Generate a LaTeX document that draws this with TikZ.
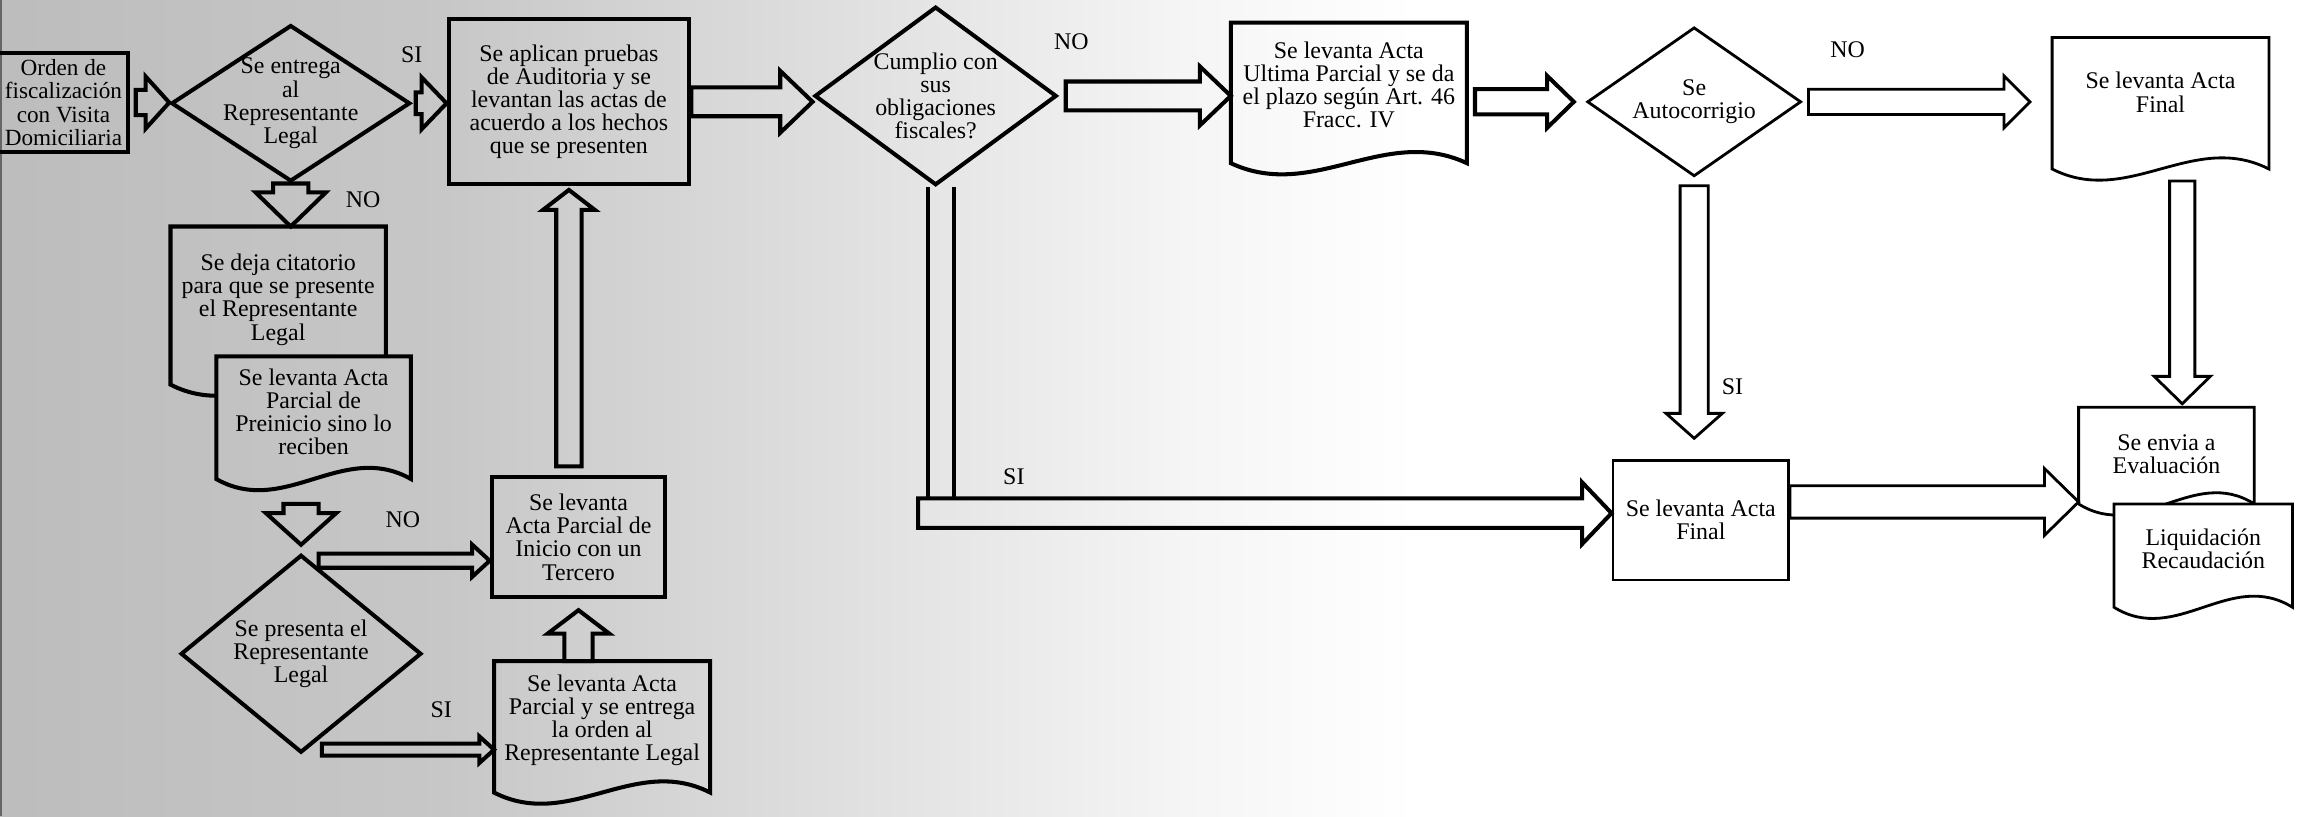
\documentclass[tikz,border=0pt]{standalone}
\usepackage{fontspec}
\setmainfont{Liberation Serif}
\usepackage{tikz}
\usetikzlibrary{calc,positioning,shapes.geometric}

% document symbol: box with a wavy lower edge
\newcommand{\docshape}[3][]{%
  \draw[#1] ($(#2.south west)+(0pt,-#3)$) -- (#2.north west) -- (#2.north east)
    -- ($(#2.south east)+(0pt,-#3)$)
    .. controls ($(#2.south west)!0.65!(#2.south east)+(0pt,11pt-#3)$)
       and ($(#2.south west)!0.35!(#2.south east)+(0pt,-11pt-#3)$)
    .. ($(#2.south west)+(0pt,-#3)$) -- cycle;}

\begin{document}
\begin{tikzpicture}[
  x=0.42pt, y=-0.42pt,
  font=\fontsize{6.8}{6.6}\selectfont,
  ink/.style={line width=1.15pt},
  faint/.style={line width=0.8pt},
  box/.style={draw, ink, align=center, inner sep=1pt},
  doc/.style={align=center, inner sep=1pt},
  dec/.style={diamond, draw, ink, inner sep=0pt},
  dtext/.style={align=center, inner sep=0pt},
  lab/.style={inner sep=0pt},
  shaftw/.store in=\shaftw, headw/.store in=\headw, headl/.store in=\headl,
  shaftw=3.6pt, headw=7.4pt, headl=7.4pt,
  blk/.style={draw, ink, to path={let \p1=(\tikztostart), \p2=(\tikztotarget),
      \p3=($(\p2)!\headl!(\p1)$) in
      ($(\p1)!\shaftw!90:(\p2)$) -- ($(\p3)!\shaftw!-90:(\p1)$)
      -- ($(\p3)!\headw!-90:(\p1)$) -- (\p2) -- ($(\p3)!\headw!90:(\p1)$)
      -- ($(\p3)!\shaftw!90:(\p1)$) -- ($(\p1)!\shaftw!-90:(\p2)$) -- cycle}}
]
\useasboundingbox (0,0) rectangle (1568,553);

% photocopy grey on the left
\shade[left color=black!26, right color=black!22] (0,0) rectangle (301,553);
\shade[left color=black!22, right color=black!12] (300,0) rectangle (581,553);
\shade[left color=black!12, right color=black!4] (580,0) rectangle (801,553);
\shade[left color=black!4, right color=white] (800,0) rectangle (960,553);
\fill[black!60] (0,0) rectangle (1.5,553);

% left column
\node[box, font=\fontsize{6.6}{6.6}\selectfont, minimum width=37pt, minimum height=28.1pt]
  (orden) at (43,69.5) {Orden de\\fiscalización\\con Visita\\Domiciliaria};
\node[dec, minimum width=68pt, minimum height=44.5pt,
  label={[dtext]center:Se entrega\\al\\Representante\\Legal}] (d1) at (197,70) {};
\node[box, minimum width=68.5pt, minimum height=47pt] (box1) at (385.5,69)
  {Se aplican pruebas\\de Auditoria y se\\levantan las actas de\\acuerdo a los hechos\\que se presenten};
\node[doc, minimum width=60.9pt, minimum height=41.2pt] (doc1) at (188.5,203)
  {Se deja citatorio\\para que se presente\\el Representante\\Legal};
\node[doc, minimum width=55pt, minimum height=31.1pt] (doc2) at (212.5,279)
  {Se levanta Acta\\Parcial de\\Preinicio sino lo\\reciben};
\node[dec, minimum width=68.5pt, minimum height=56.3pt,
  label={[dtext]center:Se presenta el\\Representante\\Legal}] (d4) at (204,443) {};
\node[box, minimum width=49.4pt, minimum height=34.2pt] (tercero) at (392,364)
  {Se levanta\\Acta Parcial de\\Inicio con un\\Tercero};
\node[doc, minimum width=61.1pt, minimum height=33.2pt] (doc3) at (408,488)
  {Se levanta Acta\\Parcial y se entrega\\la orden al\\Representante Legal};

% middle and right
\node[dec, minimum width=68.9pt, minimum height=50.8pt,
  label={[dtext]center:Cumplio con\\sus\\obligaciones\\fiscales?}] (d2) at (634,65) {};
\node[doc, minimum width=66.8pt, minimum height=35.1pt] (doc4) at (914,57.6)
  {Se levanta Acta\\Ultima Parcial y se da\\el plazo según Art. 46\\Fracc. IV};
\node[dec, faint, minimum width=60.9pt, minimum height=42.4pt,
  label={[dtext]center:Se\\Autocorrigio}] (d3) at (1148,69) {};
\node[doc, minimum width=61.3pt, minimum height=30.7pt] (doc5) at (1464,62.5)
  {Se levanta Acta\\Final};
\node[box, faint, minimum width=50pt, minimum height=34pt] (final) at (1152.5,352.5)
  {Se levanta Acta\\Final};
\node[doc, minimum width=49.6pt, minimum height=26.5pt] (eval) at (1468,308)
  {Se envia a\\Evaluación};
\node[doc, minimum width=50.4pt, minimum height=25.2pt] (liq) at (1493,372)
  {Liquidación\\Recaudación};

% document outlines
\begin{scope}[even odd rule]
  \clip (0,0) rectangle (1568,553) (doc2.north west) rectangle (doc2.south east);
  \docshape[ink]{doc1}{3.4pt}
\end{scope}
\docshape[ink]{doc2}{3.4pt}
\docshape[ink]{doc3}{3.8pt}
\docshape[ink]{doc4}{4.5pt}
\docshape[faint]{doc5}{6.3pt}
\begin{scope}[even odd rule]
  \clip (0,0) rectangle (1568,553) (liq.north west) rectangle (liq.south east);
  \docshape[faint]{eval}{0.6pt}
\end{scope}
\docshape[faint]{liq}{3.8pt}

% branch labels
\node[lab] (si1) at (279,37) {SI};
\node[lab] (no1) at (246,135) {NO};
\node[lab] (no2) at (273,352) {NO};
\node[lab] (si2) at (299,481) {SI};
\node[lab] (no3) at (726,28) {NO};
\node[lab] (si3) at (687,323) {SI};
\node[lab] (si4) at (1174,262) {SI};
\node[lab] (no4) at (1252,34) {NO};

% block arrows
\coordinate (a1s) at ($(orden.east)+(1.5pt,0pt)$);
\coordinate (a1t) at (orden.east -| d1.west);
\draw[blk, headl=6.7pt] (a1s) to (a1t);

\coordinate (a2s) at ($(d1.east)+(1pt,0pt)$);
\coordinate (a2t) at (d1.east -| box1.west);
\draw[blk, shaftw=3.1pt, headl=7.1pt] (a2s) to (a2t);

\coordinate (a3t) at (box1.east -| d2.west);
\draw[blk, shaftw=4.1pt, headw=8.8pt, headl=9.2pt] (box1.east) to (a3t);

\coordinate (a4t) at (d1.south |- doc1.north);
\draw[blk, shaftw=5pt, headw=10pt, headl=9.7pt] (d1.south) to (a4t);

\coordinate (a5s) at ($(d4.north |- doc2.south)+(0pt,-10.5pt)$);
\coordinate (a5t) at ($(d4.north)+(0pt,2.3pt)$);
\draw[blk, shaftw=5pt, headw=10pt, headl=9pt] (a5s) to (a5t);

\coordinate (a6t) at ($(tercero.west)+(0pt,-6.7pt)$);
\coordinate (a6s) at ($(d4.north |- a6t)+(5pt,0pt)$);
\draw[blk, shaftw=2pt, headw=4.6pt, headl=5pt] (a6s) to (a6t);

\coordinate (a7t) at ($(doc3.west)+(0pt,-8.4pt)$);
\coordinate (a7s) at ($(d4.south |- a7t)+(5.9pt,0pt)$);
\draw[blk, shaftw=1.7pt, headw=3.8pt, headl=4.2pt] (a7s) to (a7t);

\coordinate (a8s) at (tercero.south |- doc3.north);
\coordinate (a8t) at ($(tercero.south)+(0pt,-3.1pt)$);
\draw[blk, shaftw=4pt, headw=8.8pt, headl=6.7pt] (a8s) to (a8t);

\coordinate (a9s) at ($(box1.south |- tercero.north)+(0pt,2.5pt)$);
\coordinate (a9t) at ($(box1.south)+(0pt,-1pt)$);
\draw[blk, headl=5.7pt] (a9s) to (a9t);

\coordinate (elbow) at ($(d2.south |- final.west)+(-5pt,2pt)$);
\coordinate (a10t) at (elbow -| final.west);
\draw[ink] ($(d2.south)+(-2.1pt,0pt)$) -- ($(d2.south |- elbow)+(-2.1pt,4.2pt)$)
  ($(d2.south)+(5.1pt,0pt)$) -- ($(d2.south |- elbow)+(5.1pt,4.2pt)$);
\draw[blk, shaftw=4.2pt, headw=8.8pt, headl=8.4pt] (elbow) to (a10t);

\coordinate (a12s) at ($(d2.east)+(2pt,0pt)$);
\coordinate (a12t) at (d2.east -| doc4.west);
\draw[blk, shaftw=4.1pt, headw=8.4pt, headl=8.8pt] (a12s) to (a12t);

\coordinate (a13s) at ($(doc4.east |- d3.west)+(2.3pt,0pt)$);
\coordinate (a13t) at ($(d3.west)+(-3.4pt,0pt)$);
\draw[blk, headl=7.6pt] (a13s) to (a13t);

\coordinate (a14s) at ($(d3.east)+(1.7pt,0pt)$);
\coordinate (a14t) at ($(doc5.west |- d3.east)+(-6.3pt,0pt)$);
\draw[blk, faint] (a14s) to (a14t);

\coordinate (a15s) at ($(d3.south)+(0pt,-2.3pt)$);
\coordinate (a15t) at ($(d3.south |- final.north)+(0pt,5.9pt)$);
\draw[blk, faint, shaftw=4pt, headw=8pt, headl=7.1pt] (a15s) to (a15t);

\coordinate (a16t) at ($(eval.north)+(4.5pt,1pt)$);
\coordinate (a16s) at ($(a16t |- doc5.south)+(0pt,-9.7pt)$);
\draw[blk, faint, headw=8pt, headl=7.8pt] (a16s) to (a16t);

\coordinate (a17s) at ($(final.east)+(0pt,5.2pt)$);
\coordinate (a17t) at (a17s -| eval.west);
\draw[blk, faint, shaftw=4.6pt, headw=9.5pt, headl=9.7pt] (a17s) to (a17t);
\end{tikzpicture}
\end{document}
